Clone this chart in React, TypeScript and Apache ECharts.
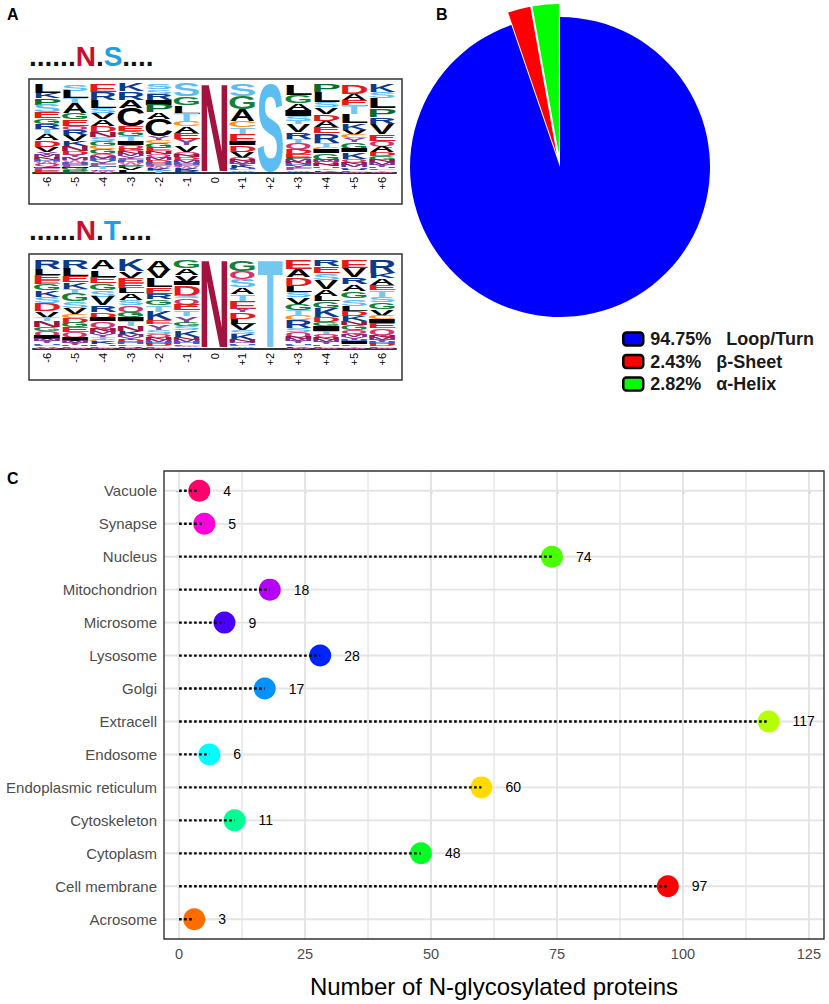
import React, { useEffect, useRef } from 'react';
import * as echarts from 'echarts';

const FONT = 'Liberation Sans, Arial, Helvetica, sans-serif';

// ---------- Panel A : sequence logos (letter + relative height, top to bottom) ----------
const LOGO_POSITIONS = ['-6', '-5', '-4', '-3', '-2', '-1', '0', '+1', '+2', '+3', '+4', '+5', '+6'];

const LOGO_NS = [
  'L26 K17 P20 S22 E18 G17 R15 T15 A20 D20 V15 Y8 M8 N8 H6 W6 Q6 I5 F6 K4 E6',
  'S20 L23 T15 A30 G18 E20 Q12 R15 V20 K15 N15 D10 Y8 M8 W8 H6 F6 I5 G6 P8',
  'E25 R22 L23 S15 V20 A20 D18 N15 S10 G15 C10 G15 Q8 M8 H6 Y6 F6 I5 T6 K5 W6',
  'K23 R25 A25 C!55 E15 G15 T15 I12 Q10 D8 N8 M8 Y8 F6 H6 W6 P8 V8 L8',
  'S16 S12 R18 I14 P22 A18 C!50 Y12 C8 G15 E10 N8 Q8 M8 D8 H6 F6 W6 K6 T6',
  'S38 G25 L25 T22 C15 A20 E20 Y18 V20 Q8 N8 D8 M8 H6 F6 W6 K6 R6',
  'N1',
  'S38 G40 A35 C20 T20 E25 I10 D20 V20 Q6 N6 M6 Y6 K6 H4 F4 W4 R4',
  'S1',
  'L33 G25 A20 I18 S15 T10 V25 R20 T12 Q18 D15 E12 P8 M6 N6 H6 Y6 F6 W4 K4',
  'P23 L30 S15 V20 D18 A20 E17 R28 T12 C8 I10 G20 M6 Q6 N6 H5 Y5 K5 F4',
  'D28 A18 E17 T25 L25 K20 V15 C10 Y10 G20 I10 K20 Q8 N8 M6 H5 R5 F4 W4',
  'K23 S20 L30 P25 R20 V30 E20 Q15 A20 D12 G10 N8 M6 Y6 H5 F5 T5 W4',
];

const LOGO_NT = [
  'R28 L20 E15 E12 G20 K20 S20 D25 V20 T10 N20 G12 Q15 I10 M6 Y6 H5 F5 A5 W4',
  'R28 L22 E18 K20 T15 G22 S20 V20 C10 D15 G15 E15 Q15 I10 M6 Y6 H5 F4 W4',
  'A28 L20 E18 G20 S20 V25 R20 D15 I10 Q20 N10 M8 Y8 T8 C6 K6 H5 F5 W4',
  'K33 V20 E15 E15 L15 A20 S15 Q20 G15 I10 T15 N15 K10 M8 Y8 D6 H6 F5 R5 W4',
  'A28 V25 L25 E20 R15 G15 T20 K25 E12 Y15 S12 Q8 N8 M6 H6 D6 F5 W4',
  'G23 A20 V20 I10 D30 S8 Q15 E20 T15 Y20 G10 S12 K20 N8 M6 H6 F5 W4 R5',
  'N1',
  'G33 Q25 S25 A20 T20 E25 Y10 D20 L15 V20 S10 K18 N6 M5 H5 F4 W4 R4',
  'T1',
  'E28 A25 D25 L20 S15 V20 G20 T15 C15 R25 S10 Q15 N8 M6 Y6 H5 F4 K4 W4',
  'R18 E20 S20 V25 A20 L15 G20 K25 D15 G10 I15 T10 Q8 N8 M6 Y6 H5 F4 W4',
  'E23 V25 R20 A20 G20 S20 L15 D15 K15 N10 G15 Q10 M8 Y8 H6 I6 F5 T5 W4',
  'R38 K15 A20 E15 T20 S15 G20 V20 C10 I10 E15 Q20 N8 M6 Y6 H6 D6 F5 W4',
];

// ---------- Panel B : secondary structure ----------
const STRUCTURE_NAMES = ['Loop/Turn', 'β-Sheet', 'α-Helix'];
const STRUCTURE_PERCENT = [94.75, 2.43, 2.82];

// ---------- Panel C : subcellular location ----------
const LOCATIONS = [
  'Vacuole', 'Synapse', 'Nucleus', 'Mitochondrion', 'Microsome', 'Lysosome', 'Golgi',
  'Extracell', 'Endosome', 'Endoplasmic reticulum', 'Cytoskeleton', 'Cytoplasm',
  'Cell membrane', 'Acrosome',
];
const PROTEIN_COUNTS = [4, 5, 74, 18, 9, 28, 17, 117, 6, 60, 11, 48, 97, 3];
const X_TICKS = [0, 25, 50, 75, 100, 125];
const X_MINOR_TICKS = [12.5, 37.5, 62.5, 87.5, 112.5];

// ---------- styles ----------
const POINT_COLORS = [
  '#FF006D', '#FF00DB', '#49FF00', '#B600FF', '#4900FF', '#0024FF', '#0092FF',
  '#B6FF00', '#00FFFF', '#FFDB00', '#00FF92', '#00FF24', '#FF0000', '#FF6D00',
];
const STRUCTURE_COLORS = ['#0000FF', '#FF0000', '#00FF00'];

const LETTER_COLORS: Record<string, string> = {
  A: '#000000', V: '#000000', L: '#000000', I: '#000000',
  M: '#7B2D8E', F: '#9C4FA6', W: '#E070B8', Y: '#8A3FA8', H: '#3A5FCD',
  K: '#0D3B8C', R: '#0D3B8C', D: '#E41A1C', E: '#E41A1C',
  S: '#5BBDF2', T: '#74C7F0', G: '#13813A', P: '#0B6B2F',
  Q: '#D6336C', N: '#A3133F', C: '#F7931E',
};
const ALT_COLOR = '#000000';
const LETTER_INK: Record<string, number> = {
  A: 0.72, C: 0.62, D: 0.62, E: 0.55, F: 0.5, G: 0.68, H: 0.58, I: 0.14, K: 0.66, L: 0.52,
  M: 0.69, N: 0.58, P: 0.56, Q: 0.72, R: 0.64, S: 0.6, T: 0.6, V: 0.7, W: 0.94, Y: 0.7,
};

type LogoItem = { pos: number; y0: number; y1: number; letter: string; alt: boolean };

function parseLogo(cols: string[]): LogoItem[] {
  const items: LogoItem[] = [];
  cols.forEach((col, ci) => {
    const toks = col.trim().split(/\s+/).map((t) => {
      const m = t.match(/^([A-Z])(!?)([\d.]+)$/)!;
      return { letter: m[1], alt: m[2] === '!', w: parseFloat(m[3]) };
    });
    const total = toks.reduce((s, t) => s + t.w, 0);
    let top = 1;
    toks.forEach((t) => {
      const h = t.w / total;
      items.push({ pos: ci - 6, y0: top - h, y1: top, letter: t.letter, alt: t.alt });
      top -= h;
    });
  });
  return items;
}

function letterSeries(items: LogoItem[], gi: number) {
  return {
    type: 'custom',
    xAxisIndex: gi,
    yAxisIndex: gi,
    silent: true,
    clip: false,
    data: items.map((it) => [it.pos, it.y0, it.y1]),
    encode: { x: 0, y: [1, 2] },
    renderItem: (params: any, api: any) => {
      const it = items[params.dataIndex];
      const tl = api.coord([it.pos - 0.45, it.y1]);
      const br = api.coord([it.pos + 0.45, it.y0]);
      const w = br[0] - tl[0];
      const h = br[1] - tl[1];
      if (h < 0.3) return null;
      const F = 40;
      const ink = LETTER_INK[it.letter] || 0.6;
      return {
        type: 'text',
        x: (tl[0] + br[0]) / 2,
        y: (tl[1] + br[1]) / 2,
        scaleX: w / (ink * F),
        scaleY: h / (0.716 * F),
        style: {
          text: it.letter,
          fontSize: F,
          fontWeight: 'bold',
          fontFamily: FONT,
          fill: it.alt ? ALT_COLOR : LETTER_COLORS[it.letter] || '#000',
          align: 'center',
          verticalAlign: 'middle',
        },
      };
    },
  };
}

function logoXAxis(gi: number) {
  return {
    gridIndex: gi,
    type: 'value',
    min: -6.5,
    max: 6.5,
    splitLine: { show: false },
    axisTick: { show: false },
    axisLine: { show: true, onZero: false, lineStyle: { color: '#333', width: 2 } },
    axisLabel: {
      customValues: LOGO_POSITIONS.map((_, i) => i - 6),
      rotate: 90,
      margin: 4,
      fontSize: 11,
      color: '#000',
      formatter: (v: number) => LOGO_POSITIONS[Math.round(v) + 6] ?? '',
    },
  };
}

function header(y: number, second: string) {
  return {
    type: 'text',
    left: 29,
    top: y,
    z: 10,
    style: {
      text: `{d|......}{n|N}{d|.}{s|${second}}{d|....}`,
      rich: {
        d: { fontSize: 28, fontWeight: 'bold', fill: '#111', fontFamily: FONT },
        n: { fontSize: 28, fontWeight: 'bold', fill: '#C8102E', fontFamily: FONT },
        s: { fontSize: 28, fontWeight: 'bold', fill: '#1E9FE3', fontFamily: FONT },
      },
    },
  };
}

export default function App() {
  const ref = useRef<HTMLDivElement>(null);
  useEffect(() => {
    if (!ref.current) return;
    const chart = echarts.init(ref.current, undefined, { renderer: 'svg' });
    const nsItems = parseLogo(LOGO_NS);
    const ntItems = parseLogo(LOGO_NT);
    const yMin = -0.6;
    const yMax = LOCATIONS.length - 1 + 0.6;

    const option: any = {
      animation: false,
      textStyle: { fontFamily: FONT },
      grid: [
        { left: 164, top: 471, width: 660, height: 468 },
        { left: 33, top: 84, width: 363, height: 89 },
        { left: 33, top: 260, width: 363, height: 89 },
      ],
      xAxis: [
        {
          gridIndex: 0,
          type: 'value',
          min: -3,
          max: 128,
          splitLine: { show: false },
          axisLine: { show: false },
          axisTick: { show: true, customValues: X_TICKS, length: 3, lineStyle: { color: '#333', width: 1.2 } },
          axisLabel: { customValues: X_TICKS, color: '#4d4d4d', fontSize: 14.5, margin: 7 },
          name: 'Number of N-glycosylated proteins',
          nameLocation: 'middle',
          nameGap: 47,
          nameTextStyle: { fontSize: 24, color: '#000', verticalAlign: 'middle' },
        },
        logoXAxis(1),
        logoXAxis(2),
      ],
      yAxis: [
        {
          gridIndex: 0,
          type: 'value',
          inverse: true,
          min: yMin,
          max: yMax,
          splitLine: { show: false },
          axisLine: { show: false },
          axisTick: { show: true, customValues: LOCATIONS.map((_, i) => i), length: 3, lineStyle: { color: '#333', width: 1.2 } },
          axisLabel: {
            customValues: LOCATIONS.map((_, i) => i),
            color: '#4d4d4d',
            fontSize: 15,
            margin: 7,
            formatter: (v: number) => LOCATIONS[Math.round(v)] ?? '',
          },
        },
        { gridIndex: 1, type: 'value', min: 0, max: 1, show: false },
        { gridIndex: 2, type: 'value', min: 0, max: 1, show: false },
      ],
      legend: {
        orient: 'vertical',
        left: 617,
        top: 325,
        itemWidth: 20,
        itemHeight: 13,
        itemGap: 4.5,
        icon: 'roundRect',
        selectedMode: false,
        data: STRUCTURE_NAMES,
        formatter: (name: string) => {
          const i = STRUCTURE_NAMES.indexOf(name);
          return `${STRUCTURE_PERCENT[i].toFixed(2)}%\u00a0\u00a0\u00a0${name}`;
        },
        itemStyle: { borderColor: '#000', borderWidth: 2.5 },
        textStyle: { fontSize: 18, fontWeight: 'bold', color: '#1a1a1a', padding: [0, 0, 0, 2], fontFamily: FONT },
      },
      series: [
        // vertical grid lines
        {
          type: 'custom',
          xAxisIndex: 0,
          yAxisIndex: 0,
          silent: true,
          clip: false,
          z: 1,
          data: [...X_TICKS.map((v) => [v, 1]), ...X_MINOR_TICKS.map((v) => [v, 0])],
          renderItem: (_p: any, api: any) => {
            const v = api.value(0);
            const major = api.value(1) === 1;
            const a = api.coord([v, yMin]);
            const b = api.coord([v, yMax]);
            return {
              type: 'line',
              shape: { x1: a[0], y1: a[1], x2: b[0], y2: b[1] },
              style: { stroke: '#E4E4E4', lineWidth: major ? 1.9 : 1.3 },
            };
          },
        },
        // horizontal grid lines
        {
          type: 'custom',
          xAxisIndex: 0,
          yAxisIndex: 0,
          silent: true,
          clip: false,
          z: 1,
          data: LOCATIONS.map((_, i) => [0, i]),
          renderItem: (_p: any, api: any) => {
            const i = api.value(1);
            const a = api.coord([-3, i]);
            const b = api.coord([128, i]);
            return {
              type: 'line',
              shape: { x1: a[0], y1: a[1], x2: b[0], y2: b[1] },
              style: { stroke: '#E4E4E4', lineWidth: 1.9 },
            };
          },
        },
        // points
        {
          type: 'scatter',
          xAxisIndex: 0,
          yAxisIndex: 0,
          z: 3,
          symbolSize: 22,
          silent: true,
          data: PROTEIN_COUNTS.map((v, i) => ({ value: [v, i], itemStyle: { color: POINT_COLORS[i], opacity: 1 } })),
          label: {
            show: true,
            position: 'right',
            distance: 13,
            color: '#000',
            fontSize: 14,
            formatter: (p: any) => String(p.value[0]),
          },
        },
        // dotted segments
        {
          type: 'custom',
          xAxisIndex: 0,
          yAxisIndex: 0,
          silent: true,
          z: 4,
          data: PROTEIN_COUNTS.map((v, i) => [v, i]),
          renderItem: (_p: any, api: any) => {
            const v = api.value(0);
            const i = api.value(1);
            const a = api.coord([0, i]);
            const b = api.coord([v, i]);
            return {
              type: 'line',
              shape: { x1: a[0], y1: a[1], x2: b[0], y2: b[1] },
              style: { stroke: '#000', lineWidth: 2.3, lineDash: [2.6, 2.4] },
            };
          },
        },
        // pie
        {
          type: 'pie',
          center: [560, 167],
          radius: 150,
          startAngle: 90,
          clockwise: true,
          selectedMode: 'multiple',
          selectedOffset: 13,
          silent: true,
          label: { show: false },
          labelLine: { show: false },
          emphasis: { disabled: true },
          itemStyle: { borderWidth: 0 },
          data: STRUCTURE_NAMES.map((n, i) => ({
            name: n,
            value: STRUCTURE_PERCENT[i],
            selected: i > 0,
            itemStyle: { color: STRUCTURE_COLORS[i] },
          })),
        },
        letterSeries(nsItems, 1),
        letterSeries(ntItems, 2),
      ],
      graphic: [
        { type: 'text', left: 7, top: 6, z: 10, style: { text: 'A', fontSize: 16, fontWeight: 'bold', fill: '#000', fontFamily: FONT } },
        { type: 'text', left: 436, top: 6, z: 10, style: { text: 'B', fontSize: 16, fontWeight: 'bold', fill: '#000', fontFamily: FONT } },
        { type: 'text', left: 7, top: 470, z: 10, style: { text: 'C', fontSize: 16, fontWeight: 'bold', fill: '#000', fontFamily: FONT } },
        header(42, 'S'),
        header(216, 'T'),
        { type: 'rect', z: 10, silent: true, shape: { x: 29, y: 79, width: 373, height: 125 }, style: { fill: 'none', stroke: '#333', lineWidth: 1.5 } },
        { type: 'rect', z: 10, silent: true, shape: { x: 29, y: 254, width: 373, height: 126 }, style: { fill: 'none', stroke: '#333', lineWidth: 1.5 } },
        { type: 'rect', z: 10, silent: true, shape: { x: 164, y: 471, width: 660, height: 468 }, style: { fill: 'none', stroke: '#333', lineWidth: 1.4 } },
      ],
    };
    chart.setOption(option);
    return () => chart.dispose();
  }, []);
  return <div ref={ref} style={{ position: 'fixed', left: 0, top: 0, width: 829, height: 1004, background: '#fff' }} />;
}
